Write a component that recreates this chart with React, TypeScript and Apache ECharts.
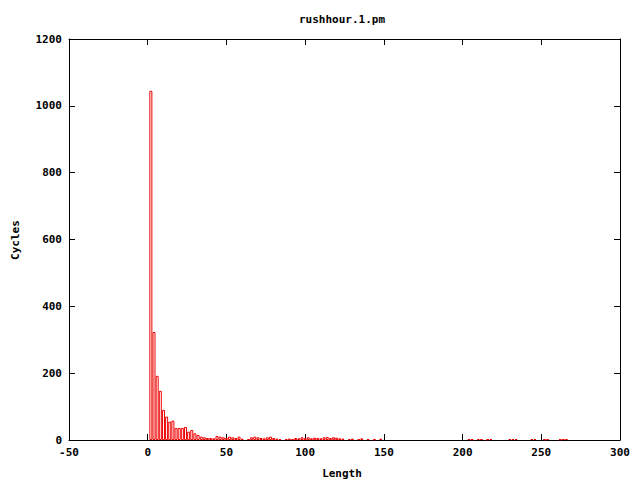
import React, { useEffect, useRef } from "react";
import * as echarts from "echarts";

const lengths = [
  2, 4, 6, 8, 10, 12, 14, 16, 18, 20, 22, 24, 26, 28, 30, 32,
  34, 36, 38, 40, 42, 44, 46, 48, 50, 52, 54, 56, 58, 60, 64, 66, 68, 70,
  72, 74, 76, 78, 80, 82, 84, 88, 90, 92, 94, 96, 98, 100, 102, 104, 106,
  108, 110, 112, 114, 116, 118, 120, 122, 124, 128, 130, 134, 136, 140, 144, 148,
  204, 206, 210, 212, 216, 218, 230, 232, 234, 244, 246, 252, 254, 262, 264, 266,
];
const cycles = [
  1045, 323, 192, 147, 90, 70, 55, 58, 36, 36, 36, 39, 25, 30, 20, 15,
  10, 8, 6, 6, 5, 12, 10, 8, 6, 10, 8, 6, 10, 4, 3, 8, 10, 8,
  6, 5, 8, 10, 6, 4, 3, 3, 4, 3, 6, 5, 8, 6, 8, 5, 7,
  6, 5, 8, 9, 6, 8, 7, 5, 4, 3, 4, 3, 5, 3, 2, 4,
  3, 2, 3, 3, 2, 3, 3, 3, 3, 3, 3, 2, 3, 2, 3, 3,
];
const titleText = "rushhour.1.pm";
const xLabel = "Length";
const yLabel = "Cycles";

const FONT = "DejaVu Sans Mono";

export default function App() {
  const ref = useRef<HTMLDivElement>(null);
  useEffect(() => {
    if (!ref.current) return;
    const chart = echarts.init(ref.current, null, { renderer: "svg" });
    const tickStyle = { show: true, inside: true, length: 6, lineStyle: { color: "#000", width: 1 } };
    const axisLine = { show: true, onZero: false, lineStyle: { color: "#000", width: 1 } };
    const labelStyle = {
      color: "#000", fontFamily: FONT, fontSize: 11, fontWeight: "bold" as const,
      formatter: (v: number) => String(v),
    };
    chart.setOption({
      animation: false,
      backgroundColor: "#fff",
      grid: { left: 69, right: 20, top: 39, bottom: 40, containLabel: false },
      xAxis: [
        {
          type: "value", min: -50, max: 300, interval: 50, position: "bottom",
          axisLine, axisTick: tickStyle, splitLine: { show: false },
          axisLabel: { ...labelStyle, margin: 7 },
        },
        {
          type: "value", min: -50, max: 300, interval: 50, position: "top",
          axisLine, axisTick: tickStyle, splitLine: { show: false },
          axisLabel: { show: false },
        },
      ],
      yAxis: [
        {
          type: "value", min: 0, max: 1200, interval: 200, position: "left",
          axisLine, axisTick: tickStyle, splitLine: { show: false },
          axisLabel: { ...labelStyle, margin: 7 },
        },
        {
          type: "value", min: 0, max: 1200, interval: 200, position: "right",
          axisLine, axisTick: tickStyle, splitLine: { show: false },
          axisLabel: { show: false },
        },
      ],
      graphic: [
        { type: "text", x: 342, y: 19, style: { text: titleText, fill: "#000", font: `bold 11px '${FONT}'`, align: "center", verticalAlign: "middle" } },
        { type: "text", x: 342, y: 473, style: { text: xLabel, fill: "#000", font: `bold 11px '${FONT}'`, align: "center", verticalAlign: "middle" } },
        { type: "text", x: 15, y: 240, rotation: Math.PI / 2, style: { text: yLabel, fill: "#000", font: `bold 11px '${FONT}'`, align: "center", verticalAlign: "middle" } },
      ],
      series: [
        {
          type: "bar",
          xAxisIndex: 0,
          yAxisIndex: 0,
          barWidth: 3,
          data: lengths.map((l, i) => [l, cycles[i]]),
          itemStyle: { color: "rgba(255,255,255,0)", borderColor: "#ee0000", borderWidth: 1 },
          silent: true,
        },
      ],
    });
    return () => chart.dispose();
  }, []);
  return <div ref={ref} style={{ position: "fixed", left: 0, top: 0, width: 640, height: 480 }} />;
}
